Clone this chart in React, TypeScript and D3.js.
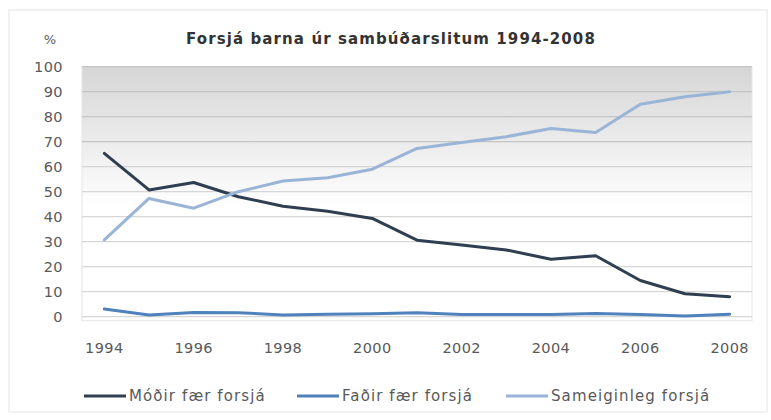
import React from 'react';
import * as d3 from 'd3';

// chart values
const years: number[] = [1994, 1995, 1996, 1997, 1998, 1999, 2000, 2001, 2002, 2003, 2004, 2005, 2006, 2007, 2008];
const modirValues: number[] = [65.3, 50.7, 53.7, 48, 44.2, 42.2, 39.3, 30.6, 28.7, 26.7, 23, 24.4, 14.5, 9.2, 8];
const fadirValues: number[] = [3.1, 0.7, 1.7, 1.6, 0.7, 1, 1.2, 1.6, 0.9, 0.9, 0.9, 1.3, 0.9, 0.3, 1];
const sameigValues: number[] = [30.7, 47.3, 43.4, 50, 54.3, 55.6, 59, 67.3, 69.7, 72, 75.3, 73.7, 85, 88, 90];
const yTicks: number[] = [0, 10, 20, 30, 40, 50, 60, 70, 80, 90, 100];
const xTickYears: number[] = [1994, 1996, 1998, 2000, 2002, 2004, 2006, 2008];

const seriesNames: string[] = ['Móðir fær forsjá', 'Faðir fær forsjá', 'Sameiginleg forsjá'];
const seriesColors: string[] = ['#2f3e50', '#4f81bd', '#9ab4d7'];
const seriesValues: number[][] = [modirValues, fadirValues, sameigValues];

const chartTitle = 'Forsjá barna úr sambúðarslitum 1994-2008';

const W = 771;
const H = 420;
const plotLeft = 82;
const plotRight = 752;
const plotTop = 66.7;
const plotBottom = 316.7;

const font = '"DejaVu Sans", Verdana, sans-serif';
const textColor = '#595959';

const App: React.FC = () => {
  const x = d3.scalePoint<number>()
    .domain(years)
    .range([plotLeft, plotRight])
    .padding(0.5);

  const y = d3.scaleLinear()
    .domain([0, 100])
    .range([plotBottom, plotTop]);

  const line = d3.line<number>()
    .x((_d, i) => x(years[i]) as number)
    .y(d => y(d));

  // legend layout: line start positions
  const legendX = [84, 297, 506];
  const legendY = 396;

  return (
    <svg width={W} height={H} style={{ position: 'absolute', left: 0, top: 0, fontFamily: font }}>
      <defs>
        <linearGradient id="plotBg" x1="0" y1="0" x2="0" y2="1">
          <stop offset="0" stopColor="#d6d6d6" />
          <stop offset="0.3" stopColor="#ececec" />
          <stop offset="0.55" stopColor="#ffffff" />
          <stop offset="1" stopColor="#ffffff" />
        </linearGradient>
      </defs>
      <rect x={0} y={0} width={W} height={H} fill="#fff" />
      <rect x={9} y={10} width={758} height={402} fill="none" stroke="#e4e4e4" />

      {/* plot area */}
      <rect x={plotLeft} y={plotTop} width={plotRight - plotLeft} height={plotBottom - plotTop + 4}
        fill="url(#plotBg)" stroke="#e6e6e6" />
      {yTicks.map(t => (
        <line key={t} x1={plotLeft} x2={plotRight} y1={y(t)} y2={y(t)}
          stroke={t >= 70 ? '#c4c4c4' : '#d6d6d6'} strokeWidth={1.3} />
      ))}

      {/* y tick labels */}
      {yTicks.map(t => (
        <text key={t} x={63} y={y(t)} dy="0.36em" textAnchor="end" fontSize={14.5}
          fill={textColor} letterSpacing={0.4}>{t}</text>
      ))}
      <text x={50} y={39} dy="0.36em" textAnchor="middle" fontSize={13} fill={textColor}>%</text>

      {/* x tick labels */}
      {xTickYears.map(yr => (
        <text key={yr} x={x(yr)} y={347.5} dy="0.36em" textAnchor="middle" fontSize={14.5}
          fill={textColor} letterSpacing={0.4}>{yr}</text>
      ))}

      {/* title */}
      <text x={391} y={38.5} dy="0.36em" textAnchor="middle" fontSize={15} fontWeight="bold"
        fill="#333" letterSpacing={1.1}>{chartTitle}</text>

      {/* series */}
      {seriesValues.map((vals, i) => (
        <path key={seriesNames[i]} d={line(vals) ?? ''} fill="none" stroke={seriesColors[i]}
          strokeWidth={3} strokeLinejoin="round" strokeLinecap="round" />
      ))}

      {/* legend */}
      {seriesNames.map((name, i) => (
        <g key={name}>
          <line x1={legendX[i]} x2={legendX[i] + 42} y1={legendY} y2={legendY}
            stroke={seriesColors[i]} strokeWidth={3} />
          <text x={legendX[i] + 45} y={legendY} dy="0.36em" fontSize={15} fill={textColor}
            letterSpacing={1.1}>{name}</text>
        </g>
      ))}
    </svg>
  );
};

export default App;
